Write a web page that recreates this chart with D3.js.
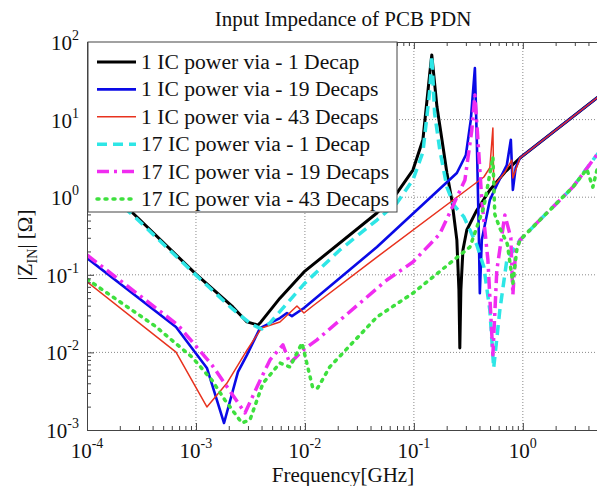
<!DOCTYPE html>
<html>
<head>
<meta charset="utf-8">
<script src="https://cdn.jsdelivr.net/npm/d3@7"></script>
<style>
  body { margin: 0; background: #fff; }
  svg { display: block; font-family: "Liberation Serif", "DejaVu Serif", serif; }
</style>
</head>
<body>
<svg id="chart" width="597" height="486"></svg>
<script>
// frequency [GHz], |Z| [ohm]
var black1 = [[1e-4, 2.24], [2.75e-4, 0.59], [1e-3, 0.102], [2.18e-3, 0.0385], [2.94e-3, 0.0247], [3.71e-3, 0.0225],
  [3.95e-3, 0.0247], [5.9e-3, 0.05], [9.8e-3, 0.109], [0.0458, 0.625], [0.0698, 1.13], [0.098, 2.24], [0.121, 5.5],
  [0.140, 40], [0.146, 68], [0.163, 14.5], [0.181, 5.5], [0.201, 2.05], [0.223, 0.92], [0.248, 0.28], [0.259, 0.064],
  [0.264, 0.0114], [0.270, 0.064], [0.282, 0.209], [0.306, 0.378], [0.378, 0.68], [0.498, 1.24], [0.684, 2.1],
  [0.94, 3.2], [4.77, 19], [5, 20]];
var blue19 = [[1e-4, 0.164], [6.56e-4, 0.0212], [1.26e-3, 0.0063], [1.81e-3, 0.00123], [2.43e-3, 0.0056], [2.94e-3, 0.0093],
  [3.87e-3, 0.0206], [5.9e-3, 0.0277], [6.84e-3, 0.0322], [7.6e-3, 0.0294], [9.8e-3, 0.0373], [0.0458, 0.228],
  [0.248, 2.05], [0.30, 3.5], [0.333, 9.9], [0.363, 46], [0.378, 5.5], [0.394, 0.378], [0.403, 0.058], [0.42, 0.28],
  [0.498, 0.92], [0.577, 1.44], [0.713, 2.6], [0.776, 5.5], [0.81, 1.24], [0.86, 2.4], [0.94, 3.2], [4.77, 19], [5, 20]];
var red43 = [[1e-4, 0.081], [6.56e-4, 0.0101], [1.26e-3, 0.00198], [1.92e-3, 0.0040], [2.94e-3, 0.0107], [4.0e-3, 0.0206],
  [5.9e-3, 0.0247], [8.45e-3, 0.0396], [9.8e-3, 0.0322], [0.0118, 0.0396], [0.0458, 0.169], [0.439, 1.82], [0.498, 2.4],
  [0.531, 7.8], [0.54, 1.6], [0.553, 1.44], [0.684, 2.1], [0.792, 3.0], [0.81, 1.77], [0.94, 3.2], [4.77, 19], [5, 20]];
var cyan1 = [[1e-4, 1.87], [2.75e-4, 0.556], [1e-3, 0.099], [2.18e-3, 0.036], [3.2e-3, 0.0232], [4.0e-3, 0.020],
  [4.78e-3, 0.024], [9.8e-3, 0.076], [0.0209, 0.209], [0.0458, 0.508], [0.0698, 0.84], [0.098, 1.67], [0.121, 3.8],
  [0.140, 24], [0.146, 66], [0.155, 12], [0.173, 4.05], [0.201, 1.35], [0.233, 0.79], [0.288, 0.556], [0.327, 0.378],
  [0.378, 0.242], [0.439, 0.126], [0.498, 0.035], [0.54, 0.0063], [0.615, 0.035], [0.713, 0.155], [0.94, 0.28],
  [1.66, 0.625], [2.88, 1.35], [4.77, 3.5], [5, 3.8]];
var magenta19 = [[1e-4, 0.18], [6.84e-4, 0.0225], [1.40e-3, 0.0069], [2.82e-3, 0.00166], [3.63e-3, 0.00358], [4.78e-3, 0.0080],
  [6.28e-3, 0.0125], [7.28e-3, 0.0072], [9.6e-3, 0.0107], [0.0129, 0.0145], [0.0565, 0.0857], [0.098, 0.146],
  [0.173, 0.336], [0.294, 1.67], [0.34, 7.3], [0.363, 20.8], [0.387, 5.5], [0.42, 0.92], [0.478, 0.155], [0.531, 0.0093],
  [0.577, 0.115], [0.684, 0.59], [0.776, 0.3], [0.81, 0.055], [0.86, 0.209], [0.94, 0.28], [1.66, 0.625], [2.88, 1.35],
  [4.77, 3.5], [5, 3.8]];
var green43 = [[1e-4, 0.088], [4.21e-4, 0.0219], [9.2e-4, 0.0087], [1.40e-3, 0.0044], [1.84e-3, 0.00244], [2.64e-3, 0.00123],
  [3.13e-3, 0.00135], [4.12e-3, 0.0040], [5.9e-3, 0.0073], [7.28e-3, 0.0065], [9.4e-3, 0.0132], [0.0118, 0.00348],
  [0.0131, 0.00348], [0.0169, 0.0065], [0.0458, 0.0286], [0.098, 0.058], [0.327, 0.228], [0.439, 0.75], [0.531, 3.3],
  [0.553, 0.6], [0.615, 0.4], [0.72, 0.25], [0.81, 0.078], [0.88, 0.209], [0.94, 0.28], [1.66, 0.625], [2.88, 1.35],
  [3.86, 2.3], [4.39, 1.35], [4.77, 2.2], [5, 2.6]];

var seriesNames = ["1 IC power via - 1 Decap", "1 IC power via - 19 Decaps", "1 IC power via - 43 Decaps",
  "17 IC power via - 1 Decap", "17 IC power via - 19 Decaps", "17 IC power via - 43 Decaps"];
var xTickExp = [-4, -3, -2, -1, 0];
var yTickExp = [-3, -2, -1, 0, 1, 2];

var styles = [
  { color: "#000000", width: 3, dash: null },
  { color: "#0a0ae6", width: 2.6, dash: null },
  { color: "#e8321e", width: 1.5, dash: null },
  { color: "#2ee6e6", width: 3.5, dash: "10,6" },
  { color: "#f02cf0", width: 3.5, dash: "12,5,3,5" },
  { color: "#3ee03e", width: 3.5, dash: "2,6" }
];
var allSeries = [black1, blue19, red43, cyan1, magenta19, green43];

var svg = d3.select("#chart");
var pL = 87, pR = 599, pT = 42, pB = 430;

var x = d3.scaleLog().domain([1e-4, 5]).range([pL, pR]);
var y = d3.scaleLog().domain([1e-3, 1e2]).range([pB, pT]);

svg.append("defs").append("clipPath").attr("id", "plotclip")
  .append("rect").attr("x", pL).attr("y", pT).attr("width", pR - pL).attr("height", pB - pT);

// grid
var gridG = svg.append("g").attr("stroke", "#8a8a8a").attr("stroke-width", 1).attr("stroke-dasharray", "1,2");
xTickExp.slice(1).forEach(function (e) {
  gridG.append("line").attr("x1", x(Math.pow(10, e))).attr("x2", x(Math.pow(10, e)))
    .attr("y1", pT).attr("y2", pB);
});
yTickExp.slice(1, -1).forEach(function (e) {
  gridG.append("line").attr("y1", y(Math.pow(10, e))).attr("y2", y(Math.pow(10, e)))
    .attr("x1", pL).attr("x2", pR);
});

// curves
var line = d3.line().x(function (d) { return x(d[0]); }).y(function (d) { return y(d[1]); });
var curveG = svg.append("g").attr("clip-path", "url(#plotclip)");
allSeries.forEach(function (s, i) {
  curveG.append("path").datum(s)
    .attr("d", line)
    .attr("fill", "none")
    .attr("stroke", styles[i].color)
    .attr("stroke-width", styles[i].width)
    .attr("stroke-dasharray", styles[i].dash)
    .attr("stroke-linecap", i == 5 ? "round" : "butt")
    .attr("stroke-linejoin", "round");
});

// axes
function isMinor(t) { return Math.abs(Math.log10(t) - Math.round(Math.log10(t))) > 1e-6; }
var minorX = x.ticks().filter(isMinor);
var majorX = xTickExp.map(function (e) { return Math.pow(10, e); });
var minorY = y.ticks().filter(isMinor);
var majorY = yTickExp.map(function (e) { return Math.pow(10, e); });

function styleAxis(g) {
  g.selectAll("path").attr("stroke", "#444");
  g.selectAll("line").attr("stroke", "#444");
  g.selectAll("text").remove();
}

svg.append("g").attr("transform", "translate(0," + pB + ")")
  .call(d3.axisBottom(x).tickValues(majorX).tickSize(-7).tickSizeOuter(0).tickFormat("")).call(styleAxis);
svg.append("g").attr("transform", "translate(0," + pB + ")")
  .call(d3.axisBottom(x).tickValues(minorX).tickSize(-4).tickSizeOuter(0).tickFormat("")).call(styleAxis);
svg.append("g").attr("transform", "translate(0," + pT + ")")
  .call(d3.axisTop(x).tickValues(majorX).tickSize(-7).tickSizeOuter(0).tickFormat("")).call(styleAxis);
svg.append("g").attr("transform", "translate(0," + pT + ")")
  .call(d3.axisTop(x).tickValues(minorX).tickSize(-4).tickSizeOuter(0).tickFormat("")).call(styleAxis);
svg.append("g").attr("transform", "translate(" + pL + ",0)")
  .call(d3.axisLeft(y).tickValues(majorY).tickSize(-7).tickSizeOuter(0).tickFormat("")).call(styleAxis);
svg.append("g").attr("transform", "translate(" + pL + ",0)")
  .call(d3.axisLeft(y).tickValues(minorY).tickSize(-4).tickSizeOuter(0).tickFormat("")).call(styleAxis);

// tick labels
xTickExp.forEach(function (e) {
  var t = svg.append("text").attr("x", x(Math.pow(10, e))).attr("y", 458)
    .attr("text-anchor", "middle").attr("font-size", 21).attr("fill", "#111");
  t.append("tspan").text("10");
  t.append("tspan").attr("dy", -10).attr("font-size", 14).text(e);
});
yTickExp.forEach(function (e) {
  var t = svg.append("text").attr("x", 79).attr("y", y(Math.pow(10, e)) + 8)
    .attr("text-anchor", "end").attr("font-size", 21).attr("fill", "#111");
  t.append("tspan").text("10");
  t.append("tspan").attr("dy", -10).attr("font-size", 14).text(e);
});

// title + axis labels
svg.append("text").attr("x", (pL + pR) / 2).attr("y", 26).attr("text-anchor", "middle")
  .attr("font-size", 21).attr("fill", "#111").text("Input Impedance of PCB PDN");
svg.append("text").attr("x", (pL + pR) / 2).attr("y", 482).attr("text-anchor", "middle")
  .attr("font-size", 21).attr("fill", "#111").text("Frequency[GHz]");
var yl = svg.append("text").attr("transform", "translate(32," + ((pT + pB) / 2 + 9) + ") rotate(-90)")
  .attr("text-anchor", "middle").attr("font-size", 21).attr("fill", "#111");
yl.append("tspan").text("|Z");
yl.append("tspan").attr("dy", 5).attr("font-size", 14).text("IN");
yl.append("tspan").attr("dy", -5).text("| [\u03A9]");

// legend
var lg = svg.append("g");
lg.append("rect").attr("x", 88).attr("y", 42).attr("width", 309).attr("height", 170)
  .attr("fill", "#fff").attr("stroke", "#444").attr("stroke-width", 1);
seriesNames.forEach(function (name, i) {
  var cy = 62 + i * 27.4;
  lg.append("line").attr("x1", 97).attr("x2", 136).attr("y1", cy).attr("y2", cy)
    .attr("stroke", styles[i].color).attr("stroke-width", styles[i].width)
    .attr("stroke-dasharray", styles[i].dash)
    .attr("stroke-linecap", i == 5 ? "round" : "butt");
  lg.append("text").attr("x", 141).attr("y", cy + 7).attr("font-size", 21.6).attr("fill", "#111").text(name);
});
</script>
</body>
</html>
